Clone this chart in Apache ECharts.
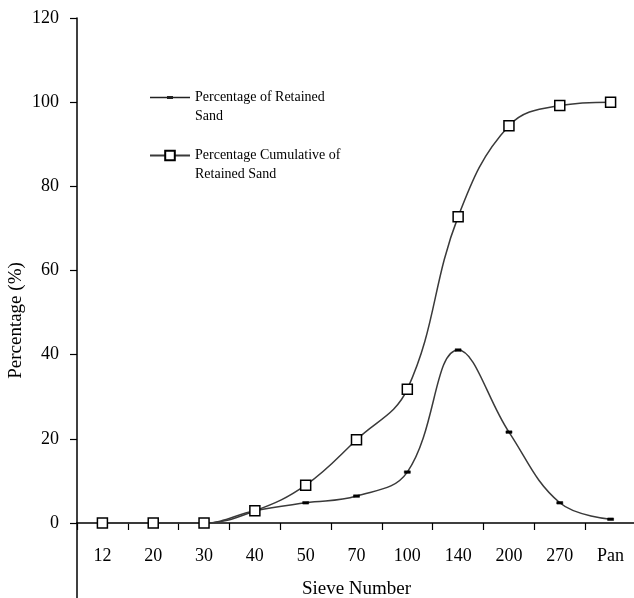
<!DOCTYPE html>
<html>
<head>
<meta charset="utf-8">
<script src="https://cdn.jsdelivr.net/npm/echarts@6/dist/echarts.min.js"></script>
<style>
  html, body { margin: 0; padding: 0; background: #fff; }
  #chart { width: 634px; height: 598px; }
</style>
</head>
<body>
<div id="chart"></div>
<script>
// sieve numbers on the x axis
const sieves = ['12', '20', '30', '40', '50', '70', '100', '140', '200', '270', 'Pan']

const retained = [0, 0, 0, 2.9, 4.8, 6.4, 12.1, 41.1, 21.6, 4.8, 0.9]
const cumulative = [0, 0, 0, 2.9, 9.0, 19.8, 31.8, 72.8, 94.4, 99.2, 100]

const font = 'Liberation Serif'
const nameRetained = 'Percentage of Retained\nSand'
const nameCumulative = 'Percentage Cumulative of\nRetained Sand'

// thin line with a small dash in the middle, in a 40x12 box
// (the two specks keep the box from being stretched)
const dashIcon = 'path://M0,0h0.01v0.01h-0.01z M39.99,11.99h0.01v0.01h-0.01z ' +
  'M0,5.3H17V4.5H23V5.3H40V6.7H23V7.5H17V6.7H0Z'

const chart = echarts.init(document.getElementById('chart'))

chart.setOption({
  backgroundColor: '#fff',
  animation: false,
  grid: [
    {left: 77, width: 559, top: 18, bottom: 75, outerBoundsMode: 'none'},
    // only there to carry the y axis line on below zero
    {left: 77, width: 1, top: 523, bottom: -5, outerBoundsMode: 'none'}
  ],
  legend: {
    orient: 'vertical',
    left: 149,
    top: 69,
    padding: 0,
    itemWidth: 40,
    itemHeight: 12,
    itemGap: 1,
    textStyle: {
      fontFamily: font,
      fontSize: 14,
      color: '#000',
      lineHeight: 19
    },
    formatter: name => ' \n' + name,
    data: [
      {name: nameRetained, icon: dashIcon, itemStyle: {color: '#222', borderWidth: 0}},
      {name: nameCumulative}
    ]
  },
  xAxis: [
    {
      type: 'category',
      data: sieves,
      boundaryGap: true,
      name: 'Sieve Number',
      nameLocation: 'middle',
      nameGap: 57,
      nameMoveOverlap: false,
      nameTextStyle: {fontFamily: font, fontSize: 19, color: '#000'},
      axisLine: {lineStyle: {color: '#000', width: 1.5}},
      axisTick: {show: true, length: 7, lineStyle: {color: '#000', width: 1.2}},
      axisLabel: {fontFamily: font, fontSize: 18, color: '#000', margin: 24}
    },
    {gridIndex: 1, type: 'value', show: false}
  ],
  yAxis: [
    {
      type: 'value',
      min: 0,
      max: 120,
      interval: 20,
      name: 'Percentage (%)',
      nameLocation: 'middle',
      nameGap: 51,
      nameMoveOverlap: false,
      nameTextStyle: {fontFamily: font, fontSize: 19, color: '#000', padding: [0, 100, 0, 0]},
      splitLine: {show: false},
      axisLine: {show: true, lineStyle: {color: '#000', width: 1.5}},
      axisTick: {show: true, length: 7, lineStyle: {color: '#000', width: 1.2}},
      axisLabel: {fontFamily: font, fontSize: 18, color: '#000', margin: 18}
    },
    {
      gridIndex: 1,
      type: 'value',
      min: 0,
      max: 1,
      splitLine: {show: false},
      axisLine: {show: true, lineStyle: {color: '#000', width: 1.5}},
      axisTick: {show: false},
      axisLabel: {show: false}
    }
  ],
  series: [
    {
      name: nameRetained,
      type: 'line',
      data: retained,
      smooth: 0.4,
      symbol: 'rect',
      symbolSize: [6, 2.5],
      z: 3,
      lineStyle: {color: '#3a3a3a', width: 1.5},
      itemStyle: {color: '#000', borderColor: '#000', borderWidth: 0.5}
    },
    {
      name: nameCumulative,
      type: 'line',
      data: cumulative,
      smooth: 0.4,
      symbol: 'rect',
      symbolSize: 10,
      z: 4,
      lineStyle: {color: '#3a3a3a', width: 1.5},
      itemStyle: {color: '#fff', borderColor: '#000', borderWidth: 1.5}
    }
  ]
})
</script>
</body>
</html>
